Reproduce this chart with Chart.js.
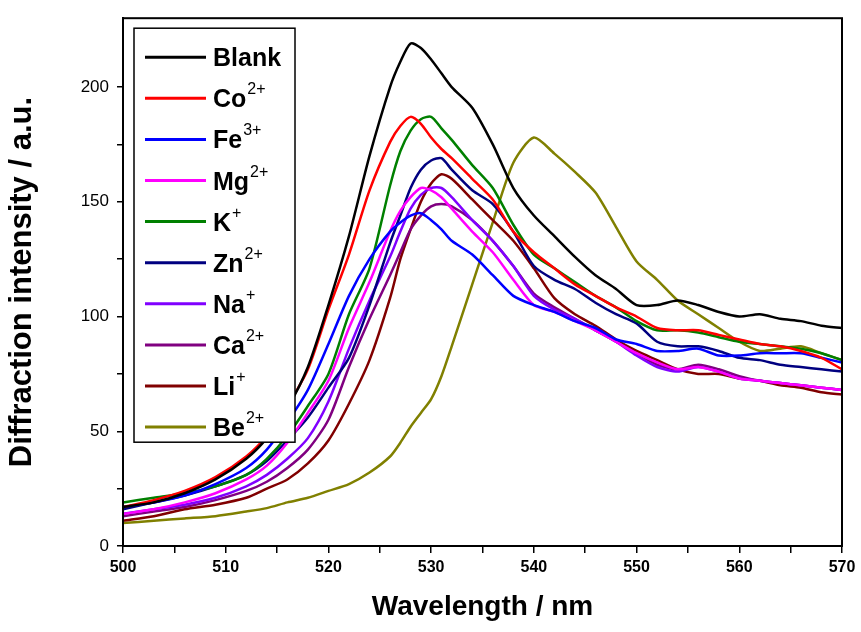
<!DOCTYPE html>
<html>
<head>
<meta charset="utf-8">
<script src="https://cdn.jsdelivr.net/npm/chart.js@4.4.1/dist/chart.umd.min.js"></script>
<style>
  html, body { margin: 0; padding: 0; background: #fff; }
  #wrap { width: 861px; height: 632px; }
</style>
</head>
<body>
<div id="wrap"><canvas id="chart" width="861" height="632"></canvas></div>
<script>
// --- data ---
const wavelength = [500, 503, 506, 509, 512, 514, 516, 518, 520, 522, 524, 526, 527, 528, 529, 530, 531, 532,
  534, 536, 538, 540, 542, 544, 546, 548, 550, 552, 554, 556, 558, 560, 562, 564, 566, 568, 570];

const ionNames = ['Blank', 'Co', 'Fe', 'Mg', 'K', 'Zn', 'Na', 'Ca', 'Li', 'Be'];
const ionCharges = ['', '2+', '3+', '2+', '+', '2+', '+', '2+', '+', '2+'];
const ionColors = ['#000000', '#ff0000', '#0000ff', '#ff00ff', '#008000', '#000080', '#8000ff', '#800080', '#800000', '#808000'];

const blank = [17, 19, 23, 29, 38, 47, 60, 78, 105, 135, 170, 200, 211, 219, 217, 212, 206, 200,
  191, 175, 156, 144, 135, 126, 118, 112, 105, 105, 107, 105, 102, 100, 101, 99, 98, 96, 95];
const co = [17, 20, 24, 30, 39, 48, 61, 77, 103, 127, 155, 176, 183, 187, 184, 178, 173, 169,
  160, 151, 137, 128, 121, 114, 109, 104, 100, 95, 94, 94, 92, 90, 88, 87, 85, 82, 77];
const fe = [17, 19, 22, 27, 34, 42, 54, 68, 88, 109, 125, 137, 141, 144, 145, 142, 138, 133,
  127, 118, 109, 105, 102, 98, 95, 90, 88, 85, 85, 86, 83, 83, 84, 84, 84, 82, 80];
const mg = [14, 16, 19, 23, 29, 35, 45, 58, 72, 95, 115, 137, 146, 152, 156, 155, 152, 147,
  137, 128, 116, 105, 102, 98, 94, 89, 84, 80, 77, 78, 76, 73, 72, 71, 70, 69, 68];
const k = [19, 21, 23, 26, 31, 38, 48, 61, 75, 101, 121, 157, 172, 181, 186, 187, 182, 177,
  166, 156, 140, 127, 121, 115, 109, 104, 98, 94, 94, 93, 91, 89, 88, 87, 86, 84, 81];
const zn = [16, 19, 22, 26, 31, 37, 46, 56, 69, 82, 105, 132, 144, 156, 164, 168, 169, 164,
  155, 149, 137, 122, 116, 112, 106, 101, 97, 89, 87, 87, 85, 82, 81, 79, 78, 77, 76];
const na = [14, 16, 18, 21, 26, 31, 38, 47, 63, 86, 107, 126, 137, 147, 153, 156, 156, 152,
  142, 133, 122, 109, 103, 99, 94, 89, 83, 78, 76, 78, 76, 73, 72, 71, 70, 69, 68];
const ca = [13, 15, 17, 20, 24, 28, 34, 42, 55, 78, 99, 118, 128, 138, 144, 148, 149, 148,
  142, 133, 122, 110, 104, 99, 94, 89, 84, 79, 77, 79, 77, 74, 72, 71, 70, 69, 68];
const li = [11, 13, 16, 18, 21, 25, 29, 36, 46, 62, 81, 108, 125, 138, 150, 158, 162, 160,
  151, 142, 133, 121, 108, 101, 96, 90, 85, 81, 77, 75, 75, 73, 72, 70, 69, 67, 66];
const be = [10, 11, 12, 13, 15, 16.5, 19, 21, 24, 27, 32, 39, 45, 52, 58, 64, 74, 87,
  114, 141, 167, 178, 171, 163, 154, 139, 124, 116, 107, 101, 95, 89, 85, 86, 87, 84, 81];

const seriesValues = [blank, co, fe, mg, k, zn, na, ca, li, be];

const FONT = "Arial, 'Liberation Sans', sans-serif";

// draws the frame around the plot
const frameBox = {
  id: 'frameBox',
  afterDraw(chart) {
    const { ctx, chartArea: a } = chart;
    ctx.save();
    ctx.strokeStyle = '#000';
    ctx.lineWidth = 2;
    ctx.strokeRect(a.left, a.top, a.right - a.left, a.bottom - a.top);
    ctx.restore();
  }
};

// Origin-style legend box with superscript charges
const ionLegend = {
  id: 'ionLegend',
  afterDraw(chart) {
    const { ctx, chartArea: a } = chart;
    const boxX = a.left + 11, boxY = a.top + 10, boxW = 161, boxH = 414;
    const rowTop = boxY + 29, rowStep = 41.1;
    ctx.save();
    ctx.fillStyle = '#fff';
    ctx.fillRect(boxX, boxY, boxW, boxH);
    ctx.strokeStyle = '#000';
    ctx.lineWidth = 1.5;
    ctx.strokeRect(boxX, boxY, boxW, boxH);
    chart.data.datasets.forEach((ds, i) => {
      const cy = rowTop + i * rowStep;
      ctx.strokeStyle = ds.borderColor;
      ctx.lineWidth = 3;
      ctx.beginPath();
      ctx.moveTo(boxX + 11, cy);
      ctx.lineTo(boxX + 72, cy);
      ctx.stroke();
      ctx.fillStyle = '#000';
      ctx.textBaseline = 'alphabetic';
      ctx.font = 'bold 25px ' + FONT;
      const base = ionNames[i];
      ctx.fillText(base, boxX + 79, cy + 9);
      if (ionCharges[i]) {
        const w = ctx.measureText(base).width;
        ctx.font = '16px ' + FONT;
        ctx.fillText(ionCharges[i], boxX + 80 + w, cy - 4);
      }
    });
    ctx.restore();
  }
};

new Chart(document.getElementById('chart'), {
  type: 'line',
  data: {
    datasets: seriesValues.map((vals, i) => ({
      label: ionNames[i] + ionCharges[i],
      data: wavelength.map((w, j) => ({ x: w, y: vals[j] })),
      borderColor: ionColors[i],
      backgroundColor: ionColors[i],
      borderWidth: 2.5,
      pointRadius: 0,
      tension: 0.25,
      fill: false
    }))
  },
  options: {
    responsive: false,
    animation: false,
    layout: { padding: { top: 14, right: 19, left: 0, bottom: 0 } },
    plugins: {
      legend: { display: false },
      tooltip: { enabled: false }
    },
    scales: {
      x: {
        type: 'linear',
        min: 500,
        max: 570,
        afterFit: (scale) => { scale.height = 86; },
        ticks: {
          stepSize: 5,
          autoSkip: false,
          maxRotation: 0,
          padding: 5,
          color: '#000',
          font: { family: FONT, size: 16, weight: 'bold' },
          callback: (v) => (v % 10 === 0 ? v : '')
        },
        grid: { drawOnChartArea: false, drawTicks: true, tickLength: 7, color: '#000', lineWidth: 1.5 },
        border: { display: true, color: '#000', width: 2 },
        title: {
          display: true,
          text: 'Wavelength / nm',
          color: '#000',
          font: { family: FONT, size: 28, weight: 'bold' },
          padding: { top: 0, bottom: 8 }
        }
      },
      y: {
        min: 0,
        max: 230,
        afterFit: (scale) => { scale.width = 123; },
        afterBuildTicks: (scale) => { scale.ticks = scale.ticks.filter(t => t.value % 25 === 0); },
        ticks: {
          stepSize: 25,
          autoSkip: false,
          padding: 8,
          color: '#000',
          font: { family: FONT, size: 17 },
          callback: (v) => (v % 50 === 0 ? v : '')
        },
        grid: { drawOnChartArea: false, drawTicks: true, tickLength: 6, color: '#000', lineWidth: 1.5 },
        border: { display: true, color: '#000', width: 2 },
        title: {
          display: true,
          text: 'Diffraction intensity / a.u.',
          color: '#000',
          font: { family: FONT, size: 31, weight: 'bold' },
          padding: { top: 4, bottom: 0 }
        }
      }
    }
  },
  plugins: [frameBox, ionLegend]
});
</script>
</body>
</html>
